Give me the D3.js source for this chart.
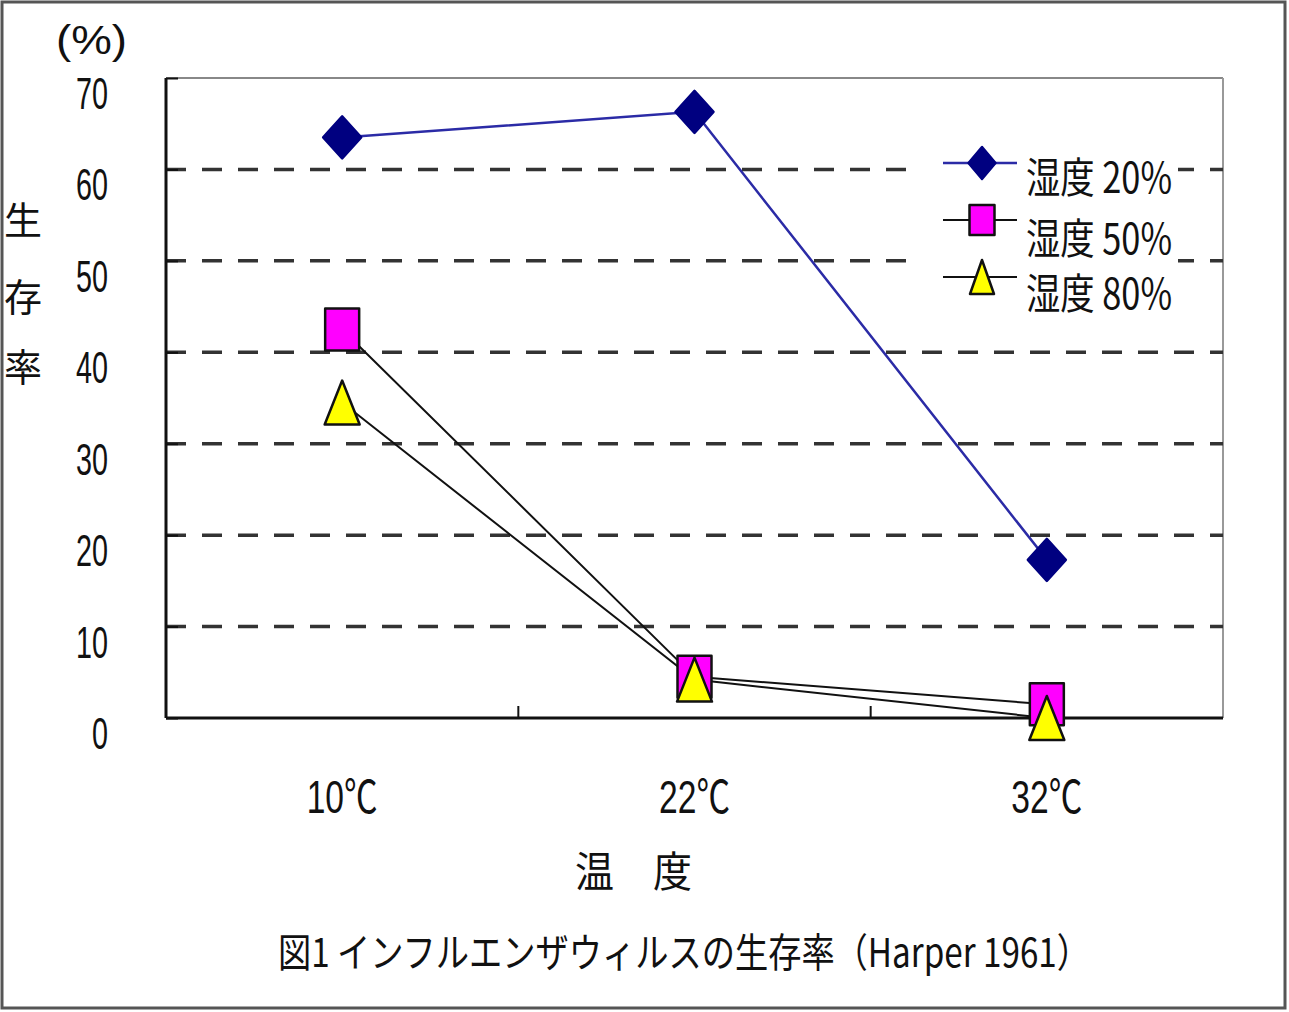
<!DOCTYPE html>
<html>
<head>
<meta charset="utf-8">
<script src="https://cdn.jsdelivr.net/npm/d3@7"></script>
<style>
  body { margin: 0; background: #fff; }
  text { font-family: "Liberation Sans", "Noto Sans CJK JP", sans-serif; fill: #111; }
  .jp { font-family: "Noto Sans CJK JP", sans-serif; }
</style>
</head>
<body>
<div id="chart"></div>
<script>
// データ
const categories = ["10℃", "22℃", "32℃"];
const seriesNames = ["湿度 20%", "湿度 50%", "湿度 80%"];
const humid20 = [63.5, 66.3, 17.3];
const humid50 = [42.5, 4.5, 1.5];
const humid80 = [34.5, 4.2, 0];
const yTicks = [0, 10, 20, 30, 40, 50, 60, 70];

const width = 1289, height = 1012;
const plot = { left: 166, right: 1223, top: 78, bottom: 718 };

const svg = d3.select('#chart').append('svg')
    .attr('width', width)
    .attr('height', height);

// 外枠
svg.append('rect')
    .attr('x', 2).attr('y', 2)
    .attr('width', 1283).attr('height', 1006)
    .attr('fill', 'none')
    .attr('stroke', '#555')
    .attr('stroke-width', 3);

const x = d3.scalePoint()
    .domain(categories)
    .range([plot.left, plot.right])
    .padding(0.5);

const y = d3.scaleLinear()
    .domain([0, 70])
    .range([plot.bottom, plot.top]);

// 枠（上・右はグレー）
svg.append('line')
    .attr('x1', plot.left).attr('x2', plot.right)
    .attr('y1', plot.top).attr('y2', plot.top)
    .attr('stroke', '#888').attr('stroke-width', 2);
svg.append('line')
    .attr('x1', plot.right).attr('x2', plot.right)
    .attr('y1', plot.top).attr('y2', plot.bottom)
    .attr('stroke', '#999').attr('stroke-width', 2);

// 目盛線（破線）
svg.selectAll('line.grid')
    .data(yTicks.filter(d => d > 0 && d < 70))
    .join('line')
    .attr('class', 'grid')
    .attr('x1', plot.left).attr('x2', plot.right)
    .attr('y1', d => y(d)).attr('y2', d => y(d))
    .attr('stroke', '#333')
    .attr('stroke-width', 3.5)
    .attr('stroke-dasharray', '20,16');

// 軸
const yAxis = d3.axisRight(y).tickValues(yTicks).tickSize(12).tickFormat('');
const yg = svg.append('g').attr('transform', `translate(${plot.left},0)`).call(yAxis);
yg.select('.domain').remove();
yg.selectAll('line').attr('stroke', '#111').attr('stroke-width', 2);

// カテゴリ境界の目盛
const bounds = [0, 1, 2, 3].map(i => plot.left + i * x.step());
svg.selectAll('line.xtick')
    .data(bounds.slice(1, 3))
    .join('line')
    .attr('class', 'xtick')
    .attr('x1', d => d).attr('x2', d => d)
    .attr('y1', plot.bottom).attr('y2', plot.bottom - 12)
    .attr('stroke', '#111').attr('stroke-width', 2);

svg.append('line')
    .attr('x1', plot.left).attr('x2', plot.left)
    .attr('y1', plot.top).attr('y2', plot.bottom)
    .attr('stroke', '#111').attr('stroke-width', 3);
svg.append('line')
    .attr('x1', plot.left).attr('x2', plot.right)
    .attr('y1', plot.bottom).attr('y2', plot.bottom)
    .attr('stroke', '#111').attr('stroke-width', 3);

// Y 軸ラベル
svg.selectAll('text.ytick')
    .data(yTicks)
    .join('text')
    .attr('class', 'ytick')
    .attr('x', 108)
    .attr('y', d => y(d) + 15 + 16)
    .attr('text-anchor', 'end')
    .attr('font-size', 44)
    .attr('textLength', d => String(d).length * 16)
    .attr('lengthAdjust', 'spacingAndGlyphs')
    .text(d => d);

svg.append('text')
    .attr('x', 56).attr('y', 40)
    .attr('dominant-baseline', 'central')
    .attr('font-size', 40)
    .attr('textLength', 71)
    .attr('lengthAdjust', 'spacingAndGlyphs')
    .text('(%)');

// Y 軸タイトル（縦書き）
svg.selectAll('text.ytitle')
    .data(['生', '存', '率'])
    .join('text')
    .attr('class', 'ytitle jp')
    .attr('x', 23)
    .attr('y', (d, i) => [217, 294, 364][i])
    .attr('text-anchor', 'middle')
    .attr('dominant-baseline', 'central')
    .attr('font-size', 38)
    .text(d => d);

// X 軸ラベル
svg.selectAll('text.xtick')
    .data(categories)
    .join('text')
    .attr('class', 'xtick')
    .attr('x', d => x(d))
    .attr('y', 813)
    .attr('text-anchor', 'middle')
    .attr('font-size', 46)
    .attr('textLength', 71)
    .attr('lengthAdjust', 'spacingAndGlyphs')
    .text(d => d);

svg.append('text')
    .attr('class', 'jp')
    .attr('x', 575).attr('y', 868)
    .attr('dominant-baseline', 'central')
    .attr('font-size', 42)
    .attr('textLength', 117)
    .attr('lengthAdjust', 'spacingAndGlyphs')
    .text('温　度');

svg.append('text')
    .attr('class', 'jp')
    .attr('x', 278).attr('y', 950)
    .attr('dominant-baseline', 'central')
    .attr('font-size', 40)
    .attr('textLength', 812)
    .attr('lengthAdjust', 'spacingAndGlyphs')
    .text('図1  インフルエンザウィルスの生存率（Harper 1961）');

// マーカー形状
const markerPath = {
    diamond: (w, h) => `M0,${-h}L${w},0L0,${h}L${-w},0Z`,
    square: (w, h) => `M${-w},${-h}H${w}V${h}H${-w}Z`,
    triangle: (w, h) => `M0,${-h}L${w},${h}H${-w}Z`
};

const series = [
    { name: seriesNames[0], values: humid20, line: '#2b2ba6', lw: 2.5, shape: 'diamond', fill: '#000080', stroke: '#000080', w: 19, h: 21 },
    { name: seriesNames[1], values: humid50, line: '#111', lw: 2, shape: 'square', fill: '#ff00ff', stroke: '#111', w: 17, h: 21 },
    { name: seriesNames[2], values: humid80, line: '#111', lw: 2, shape: 'triangle', fill: '#ffff00', stroke: '#111', w: 17.5, h: 22 }
];

const line = d3.line()
    .x((d, i) => x(categories[i]))
    .y(d => y(d));

series.forEach(s => {
    svg.append('path')
        .datum(s.values)
        .attr('fill', 'none')
        .attr('stroke', s.line)
        .attr('stroke-width', s.lw)
        .attr('d', line);
});

series.forEach(s => {
    svg.append('g').selectAll('path')
        .data(s.values)
        .join('path')
        .attr('transform', (d, i) => `translate(${x(categories[i])},${y(d)})`)
        .attr('d', markerPath[s.shape](s.w, s.h))
        .attr('fill', s.fill)
        .attr('stroke', s.stroke)
        .attr('stroke-width', 2.5)
        .attr('stroke-linejoin', 'round');
});

// 凡例
const legend = svg.append('g');
legend.append('rect')
    .attr('x', 922).attr('y', 140)
    .attr('width', 256).attr('height', 172)
    .attr('fill', '#fff');

const legendY = [163, 220, 277];
const legendTextY = [174, 235, 290];
const legendSize = [[13.5, 16], [12.5, 15], [12, 17]];
series.forEach((s, i) => {
    legend.append('line')
        .attr('x1', 943).attr('x2', 1017)
        .attr('y1', legendY[i]).attr('y2', legendY[i])
        .attr('stroke', s.line)
        .attr('stroke-width', s.lw);
    legend.append('path')
        .attr('transform', `translate(982,${legendY[i]})`)
        .attr('d', markerPath[s.shape](legendSize[i][0], legendSize[i][1]))
        .attr('fill', s.fill)
        .attr('stroke', s.stroke)
        .attr('stroke-width', 2.5)
        .attr('stroke-linejoin', 'round');
    legend.append('text')
        .attr('class', 'jp')
        .attr('x', 1026).attr('y', legendTextY[i])
        .attr('dominant-baseline', 'central')
        .attr('font-size', 42)
        .attr('textLength', 146)
        .attr('lengthAdjust', 'spacingAndGlyphs')
        .text(s.name);
});
</script>
</body>
</html>
